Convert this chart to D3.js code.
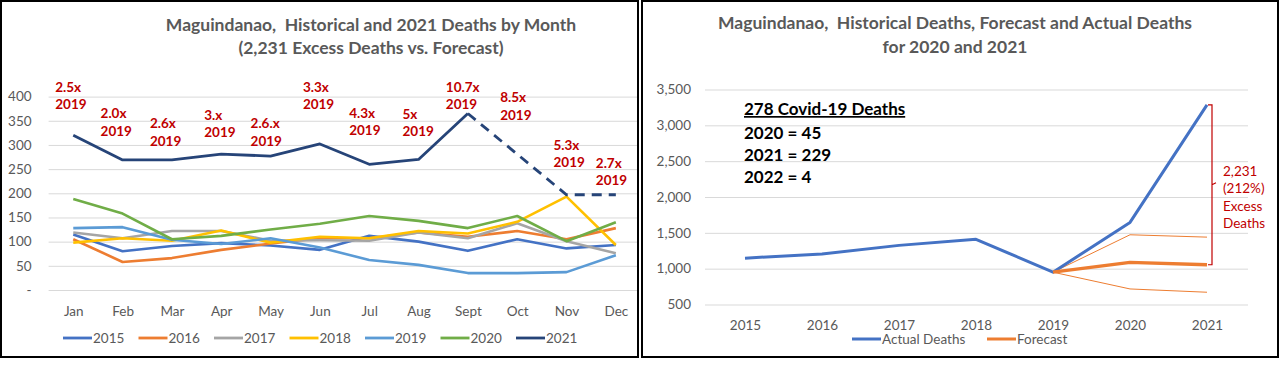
<!DOCTYPE html>
<html>
<head>
<meta charset="utf-8">
<script src="https://cdn.jsdelivr.net/npm/d3@7"></script>
<style>
  body { margin: 0; background: #fff; }
  svg { display: block; font-family: Lato, "Open Sans", sans-serif; }
</style>
</head>
<body>
<div id="chart"></div>
<script>
// ---- data ----
const months = ["Jan", "Feb", "Mar", "Apr", "May", "Jun", "Jul", "Aug", "Sept", "Oct", "Nov", "Dec"];
const yearNames = ["2015", "2016", "2017", "2018", "2019", "2020", "2021"];
const deaths2015 = [115, 80, 91, 97, 92, 83, 112, 100, 81, 105, 86, 93];
const deaths2016 = [105, 58, 66, 83, 96, 107, 107, 119, 110, 122, 105, 128];
const deaths2017 = [119, 107, 122, 122, 102, 103, 102, 119, 107, 138, 101, 76];
const deaths2018 = [98, 107, 102, 123, 98, 110, 107, 122, 117, 141, 193, 93];
const deaths2019 = [128, 130, 104, 95, 107, 88, 62, 52, 35, 35, 37, 72];
const deaths2020 = [188, 158, 105, 112, 125, 137, 153, 143, 128, 153, 101, 140];
const deaths2021 = [320, 269, 269, 281, 277, 302, 260, 270, 365, 281, 197, 197];
const multiples = ["2.5x", "2.0x", "2.6x", "3.x", "2.6.x", "3.3x", "4.3x", "5x", "10.7x", "8.5x", "5.3x", "2.7x"];
const monthTicks = [0, 50, 100, 150, 200, 250, 300, 350, 400];

const years = [2015, 2016, 2017, 2018, 2019, 2020, 2021];
const actualDeaths = [1147, 1205, 1325, 1410, 951, 1645, 3285];
const forecastYears = [2019, 2020, 2021];
const forecast = [951, 1088, 1055];
const forecastHigh = [951, 1473, 1440];
const forecastLow = [951, 717, 671];
const yearTicks = [500, 1000, 1500, 2000, 2500, 3000, 3500];
const covidLines = ["2020 = 45", "2021 = 229", "2022 = 4"];
const excessLines = ["2,231", "(212%)", "Excess", "Deaths"];

const W = 1280, H = 366;
const grey = "#595959", red = "#C00000", gridCol = "#D9D9D9";
const seriesColors = ["#4472C4", "#ED7D31", "#A5A5A5", "#FFC000", "#5B9BD5", "#70AD47", "#264478"];
const monthSeries = [deaths2015, deaths2016, deaths2017, deaths2018, deaths2019, deaths2020, deaths2021];
const tickFont = "13.5px";

const svg = d3.select("#chart").append("svg")
    .attr("width", W)
    .attr("height", H);

svg.append("rect").attr("width", W).attr("height", H).attr("fill", "#fff");

// panel frames
svg.append("rect").attr("x", 1).attr("y", 1).attr("width", 637).attr("height", 356)
    .attr("fill", "none").attr("stroke", "#000").attr("stroke-width", 2);
svg.append("rect").attr("x", 642).attr("y", 1).attr("width", 636).attr("height", 356)
    .attr("fill", "none").attr("stroke", "#000").attr("stroke-width", 2);

// =========================================================
// LEFT: deaths by month
// =========================================================
const x1 = d3.scalePoint().domain(months).range([48.6, 640.5]).padding(0.5);
const y1 = d3.scaleLinear().domain([0, 400]).range([290, 96.6]);

const left = svg.append("g");

left.append("text")
    .attr("x", 371).attr("y", 31)
    .attr("text-anchor", "middle")
    .attr("fill", grey).style("font-size", "17.5px").style("font-weight", "700")
    .text("Maguindanao,\u00a0 Historical and 2021 Deaths by Month");
left.append("text")
    .attr("x", 371).attr("y", 54)
    .attr("text-anchor", "middle")
    .attr("fill", grey).style("font-size", "17.5px").style("font-weight", "700")
    .text("(2,231 Excess Deaths vs. Forecast)");

// gridlines + y labels
const yAxisL = d3.axisLeft(y1).tickValues(monthTicks)
    .tickSize(-(637 - 48.6))
    .tickFormat(d => d === 0 ? "-" : d);
left.append("g")
    .attr("transform", "translate(48.6,0)")
    .call(yAxisL)
    .call(g => g.select(".domain").remove())
    .call(g => g.selectAll("line").attr("stroke", gridCol))
    .call(g => g.selectAll("text").attr("x", -17).attr("fill", grey)
        .style("font-size", tickFont).style("font-family", "Lato, sans-serif"));

// x labels
const xAxisL = d3.axisBottom(x1).tickSize(0).tickPadding(0);
left.append("g")
    .attr("transform", "translate(0,316)")
    .call(xAxisL)
    .call(g => g.select(".domain").remove())
    .call(g => g.selectAll("text").attr("dy", 0).attr("fill", grey)
        .style("font-size", tickFont).style("font-family", "Lato, sans-serif"));

const lineM = d3.line()
    .x((d, i) => x1(months[i]))
    .y(d => y1(d));

monthSeries.forEach((vals, k) => {
    if (k < 6) {
        left.append("path")
            .attr("d", lineM(vals))
            .attr("fill", "none")
            .attr("stroke", seriesColors[k])
            .attr("stroke-width", 2.6)
            .attr("stroke-linejoin", "round");
    }
});

// 2021: solid through Sept, dashed afterwards
const split = months.indexOf("Sept");
const lineSolid = d3.line()
    .defined((d, i) => i <= split)
    .x((d, i) => x1(months[i])).y(d => y1(d));
const lineDash = d3.line()
    .defined((d, i) => i >= split)
    .x((d, i) => x1(months[i])).y(d => y1(d));
left.append("path")
    .attr("d", lineSolid(deaths2021))
    .attr("fill", "none").attr("stroke", seriesColors[6]).attr("stroke-width", 2.8)
    .attr("stroke-linejoin", "round");
left.append("path")
    .attr("d", lineDash(deaths2021))
    .attr("fill", "none").attr("stroke", seriesColors[6]).attr("stroke-width", 2.8)
    .attr("stroke-dasharray", "10,7");

// multiple-of-2019 annotations (top line y in data units)
const labelLevel = [420, 366, 345, 362, 345, 420, 367, 365, 420, 399, 300, 263];
const labelShift = [-18, -22, -22, -17, -20, -17, -20, -16, -22, -17, -13, -20];
multiples.forEach((m, i) => {
    const t = left.append("text")
        .attr("x", x1(months[i]) + labelShift[i])
        .attr("y", y1(labelLevel[i]) + 5)
        .attr("fill", red).style("font-size", "13.5px").style("font-weight", "700");
    t.append("tspan").text(m);
    t.append("tspan").attr("x", x1(months[i]) + labelShift[i]).attr("dy", 17.5).text("2019");
});

// legend
const legL = left.append("g").attr("transform", "translate(63,338)");
const legItems = legL.selectAll("g").data(yearNames).join("g")
    .attr("transform", (d, i) => `translate(${i * 75.5},0)`);
legItems.append("line")
    .attr("x1", 0).attr("x2", 29)
    .attr("stroke", (d, i) => seriesColors[i]).attr("stroke-width", 2.8);
legItems.append("text")
    .attr("x", 30).attr("dy", "0.35em")
    .attr("fill", grey).style("font-size", tickFont)
    .text(d => d);

// =========================================================
// RIGHT: yearly deaths and forecast
// =========================================================
const x2 = d3.scalePoint().domain(years).range([706.5, 1245.5]).padding(0.5);
const y2 = d3.scaleLinear().domain([500, 3500]).range([304.5, 89.5]);

const right = svg.append("g");

right.append("text")
    .attr("x", 955).attr("y", 28.5)
    .attr("text-anchor", "middle")
    .attr("fill", grey).style("font-size", "17.5px").style("font-weight", "700")
    .text("Maguindanao,\u00a0 Historical Deaths, Forecast and Actual Deaths");
right.append("text")
    .attr("x", 955).attr("y", 52.5)
    .attr("text-anchor", "middle")
    .attr("fill", grey).style("font-size", "17.5px").style("font-weight", "700")
    .text("for 2020 and 2021");

const yAxisR = d3.axisLeft(y2).tickValues(yearTicks)
    .tickSize(-(1248 - 705))
    .tickFormat(d3.format(","));
right.append("g")
    .attr("transform", "translate(705,0)")
    .call(yAxisR)
    .call(g => g.select(".domain").remove())
    .call(g => g.selectAll("line").attr("stroke", gridCol))
    .call(g => g.selectAll("text").attr("x", -14).attr("fill", grey)
        .style("font-size", tickFont).style("font-family", "Lato, sans-serif"));

const xAxisR = d3.axisBottom(x2).tickSize(0).tickPadding(0).tickFormat(d3.format("d"));
right.append("g")
    .attr("transform", "translate(0,330)")
    .call(xAxisR)
    .call(g => g.select(".domain").remove())
    .call(g => g.selectAll("text").attr("dy", 0).attr("fill", grey)
        .style("font-size", tickFont).style("font-family", "Lato, sans-serif"));

const lineY = d3.line().x(d => x2(d[0])).y(d => y2(d[1]));
const zipYears = (ys, vs) => ys.map((yr, i) => [yr, vs[i]]);

right.append("path")
    .attr("d", lineY(zipYears(forecastYears, forecastHigh)))
    .attr("fill", "none").attr("stroke", "#ED7D31").attr("stroke-width", 1);
right.append("path")
    .attr("d", lineY(zipYears(forecastYears, forecastLow)))
    .attr("fill", "none").attr("stroke", "#ED7D31").attr("stroke-width", 1);
right.append("path")
    .attr("d", lineY(zipYears(years, actualDeaths)))
    .attr("fill", "none").attr("stroke", "#4472C4").attr("stroke-width", 3)
    .attr("stroke-linejoin", "round");
right.append("path")
    .attr("d", lineY(zipYears(forecastYears, forecast)))
    .attr("fill", "none").attr("stroke", "#ED7D31").attr("stroke-width", 3.4)
    .attr("stroke-linejoin", "round");

// bracket for excess deaths
const bx = x2(2021) + 5;
const bTop = y2(actualDeaths[actualDeaths.length - 1]);
const bBot = y2(forecast[forecast.length - 1]);
const bMid = (bTop + bBot) / 2;
right.append("path")
    .attr("d", `M${bx - 4},${bTop}L${bx},${bTop}L${bx},${bBot}L${bx - 4},${bBot}M${bx},${bMid}L${bx + 4},${bMid - 2}`)
    .attr("fill", "none").attr("stroke", red).attr("stroke-width", 1.2);

const exText = right.append("text")
    .attr("fill", red).style("font-size", "13.5px");
excessLines.forEach((s, i) => {
    exText.append("tspan")
        .attr("x", bx + 11).attr("y", bMid - 9 + i * 17.5)
        .text(s);
});

// covid deaths box
right.append("text")
    .attr("x", 744).attr("y", 115)
    .attr("fill", "#000").style("font-size", "17px").style("font-weight", "700")
    .style("text-decoration", "underline")
    .text("278 Covid-19 Deaths");
covidLines.forEach((s, i) => {
    right.append("text")
        .attr("x", 744).attr("y", 139 + i * 22)
        .attr("fill", "#000").style("font-size", "17px").style("font-weight", "700")
        .text(s);
});

// legend
const legR = right.append("g").attr("transform", "translate(852,339)");
const legRItems = [["Actual Deaths", "#4472C4"], ["Forecast", "#ED7D31"]];
legR.selectAll("g").data(legRItems).join("g")
    .attr("transform", (d, i) => `translate(${i * 135},0)`)
    .call(g => g.append("line").attr("x1", 0).attr("x2", 29)
        .attr("stroke", d => d[1]).attr("stroke-width", 3))
    .call(g => g.append("text").attr("x", 30).attr("dy", "0.35em")
        .attr("fill", grey).style("font-size", tickFont).text(d => d[0]));
</script>
</body>
</html>
